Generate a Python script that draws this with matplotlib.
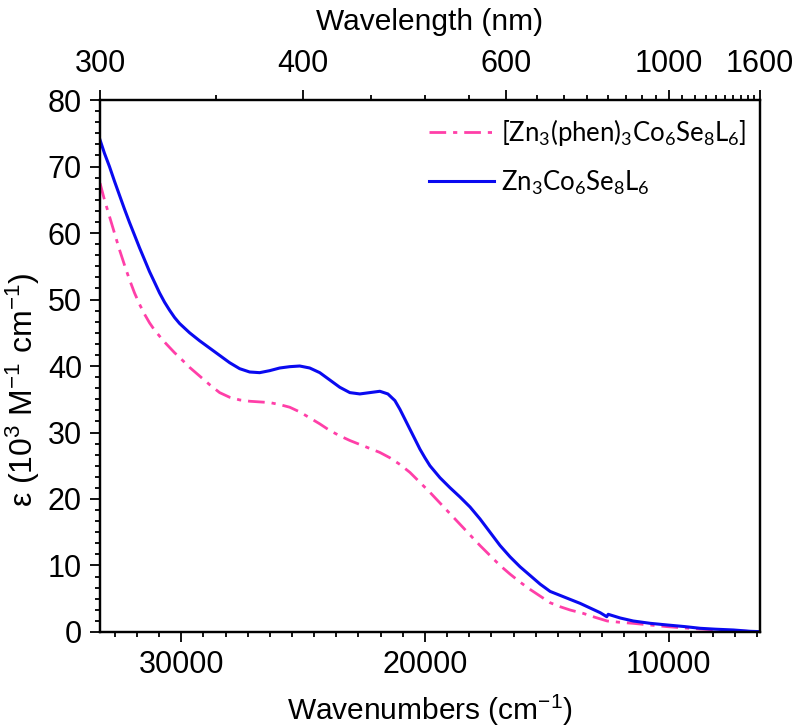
import numpy as np
import matplotlib
matplotlib.use("Agg")
import matplotlib.pyplot as plt
from matplotlib.ticker import AutoMinorLocator, FixedLocator, MultipleLocator

plt.rcParams['font.family'] = ['Liberation Sans', 'DejaVu Sans']
plt.rcParams['mathtext.fontset'] = 'custom'
plt.rcParams['mathtext.rm'] = 'Liberation Sans'
plt.rcParams['mathtext.it'] = 'Liberation Sans:italic'
plt.rcParams['mathtext.bf'] = 'Liberation Sans:bold'

# Absorption spectra: wavenumber (cm^-1) vs extinction coefficient (10^3 M^-1 cm^-1)
wn_blue = [33333, 33152, 32946, 32741, 32536, 32330, 32125, 31919, 31714, 31508,
           31303, 31097, 30892, 30686, 30481, 30275, 30070, 29659, 29248, 28837,
           28426, 28015, 27604, 27193, 26782, 26371, 25960, 25549, 25138, 24727,
           24316, 23905, 23494, 23083, 22672, 22261, 21850, 21521, 21233, 21028,
           20822, 20617, 20411, 20206, 20000, 19795, 19384, 18973, 18562, 18151,
           17740, 17329, 16918, 16507, 16096, 15685, 15274, 14863, 14452, 14041,
           13630, 13219, 12808, 12540, 12480, 11984, 11450, 10751, 10052, 9313,
           8696, 8080, 7340, 6641, 6250]
eps_blue = [74.0, 72.0, 70.0, 67.8, 65.7, 63.6, 61.6, 59.7, 57.8, 56.0,
            54.2, 52.6, 51.0, 49.6, 48.4, 47.3, 46.4, 45.0, 43.8, 42.7,
            41.6, 40.5, 39.6, 39.1, 39.0, 39.3, 39.7, 39.9, 40.0, 39.7,
            39.0, 37.9, 36.8, 36.0, 35.8, 36.0, 36.2, 35.8, 34.8, 33.5,
            32.0, 30.5, 29.0, 27.5, 26.2, 25.0, 23.2, 21.7, 20.3, 18.8,
            17.0, 15.0, 13.0, 11.3, 9.8, 8.5, 7.2, 6.1, 5.5, 4.9,
            4.3, 3.6, 2.9, 2.3, 2.66, 2.1, 1.65, 1.3, 1.05, 0.8,
            0.55, 0.42, 0.3, 0.1, 0.05]

wn_pink = [33333, 33152, 32946, 32741, 32536, 32330, 32125, 31919, 31714, 31508,
           31303, 31097, 30892, 30686, 30481, 30275, 30070, 29659, 29248, 28837,
           28426, 28015, 27604, 27193, 26782, 26371, 25960, 25549, 25138, 24727,
           24316, 23905, 23494, 23083, 22672, 22261, 21850, 21439, 21028, 20617,
           20206, 19795, 19384, 18973, 18562, 18151, 17740, 17329, 16918, 16507,
           16096, 15685, 15274, 14863, 14452, 14041, 13507, 13014, 12520, 11984,
           11450, 10751, 10052, 9313, 8696, 8080, 7340, 6641, 6250]
eps_pink = [67.5, 65.0, 62.5, 60.0, 57.5, 55.2, 53.0, 51.0, 49.3, 47.8,
            46.5, 45.4, 44.5, 43.6, 42.8, 42.0, 41.3, 39.8, 38.5, 37.2,
            36.0, 35.3, 34.9, 34.7, 34.6, 34.5, 34.2, 33.8, 33.1, 32.2,
            31.3, 30.3, 29.5, 28.8, 28.2, 27.6, 27.0, 26.2, 25.2, 24.0,
            22.5, 21.0, 19.4, 17.8, 16.2, 14.6, 13.0, 11.5, 10.0, 8.7,
            7.5, 6.4, 5.4, 4.4, 3.8, 3.3, 2.8, 2.2, 1.65, 1.45,
            1.3, 1.05, 0.8, 0.6, 0.45, 0.32, 0.2, 0.08, 0.02]

label_pink = r"[Zn$\mathregular{_3}$(phen)$\mathregular{_3}$Co$\mathregular{_6}$Se$\mathregular{_8}$L$\mathregular{_6}$]"
label_blue = r"Zn$\mathregular{_3}$Co$\mathregular{_6}$Se$\mathregular{_8}$L$\mathregular{_6}$"

wl_major = [300, 400, 600, 1000, 1600]
wl_minor = [350, 450, 500, 550, 650, 700, 750, 800, 850, 900, 950,
            1060, 1120, 1180, 1240, 1300, 1360, 1420, 1480, 1540]

fig = plt.figure(figsize=(7.97, 7.27), dpi=100)
ax = fig.add_axes([0.1255, 0.1307, 0.8281, 0.7317])

ax.plot(wn_pink, eps_pink, color='#FF3FA8', lw=2.0, ls=(0, (6, 2.5, 1.5, 2.5)),
        label=label_pink)
ax.plot(wn_blue, eps_blue, color='#0A0AF0', lw=2.2, ls='-', label=label_blue)

ax.set_xlim(1e7 / 300, 1e7 / 1600)
ax.set_ylim(0, 80)

ax.xaxis.set_major_locator(MultipleLocator(10000))
ax.xaxis.set_minor_locator(AutoMinorLocator(11))
ax.yaxis.set_major_locator(MultipleLocator(10))
ax.yaxis.set_minor_locator(AutoMinorLocator(6))

for sp in ax.spines.values():
    sp.set_linewidth(1.6)

ax.tick_params(axis='both', which='major', direction='out', length=7, width=1.3,
               labelsize=22, top=False, right=False)
ax.tick_params(axis='x', which='major', pad=6)
ax.tick_params(axis='y', which='major', pad=6)
ax.tick_params(axis='both', which='minor', direction='out', length=3.5, width=1.3,
               top=False, right=False)

ax.set_xlabel(r"Wavenumbers (cm$^{-1}$)", fontsize=21.5, labelpad=9)
ax.set_ylabel(r"ε (10$^{3}$ M$^{-1}$ cm$^{-1}$)", fontsize=23, labelpad=1)
ax.yaxis.set_label_coords(-0.088, 0.455)

# Wavelength axis on top
ax2 = ax.twiny()
ax2.set_xlim(ax.get_xlim())
ax2.xaxis.set_major_locator(FixedLocator([1e7 / w for w in wl_major]))
ax2.set_xticklabels([str(w) for w in wl_major])
ax2.xaxis.set_minor_locator(FixedLocator([1e7 / w for w in wl_minor]))
ax2.tick_params(axis='x', which='major', direction='out', length=7, width=1.3,
                labelsize=22, pad=8)
ax2.tick_params(axis='x', which='minor', direction='out', length=3.5, width=1.3)
ax2.set_xlabel("Wavelength (nm)", fontsize=21.5, labelpad=14)
for sp in ax2.spines.values():
    sp.set_linewidth(1.6)

leg = ax.legend(loc='upper right', frameon=False,
                prop={'family': 'Lato', 'size': 18.5},
                handlelength=2.5, handletextpad=0.3, labelspacing=0.8,
                bbox_to_anchor=(1.015, 1.012))

fig.savefig("out.png", dpi=100)
